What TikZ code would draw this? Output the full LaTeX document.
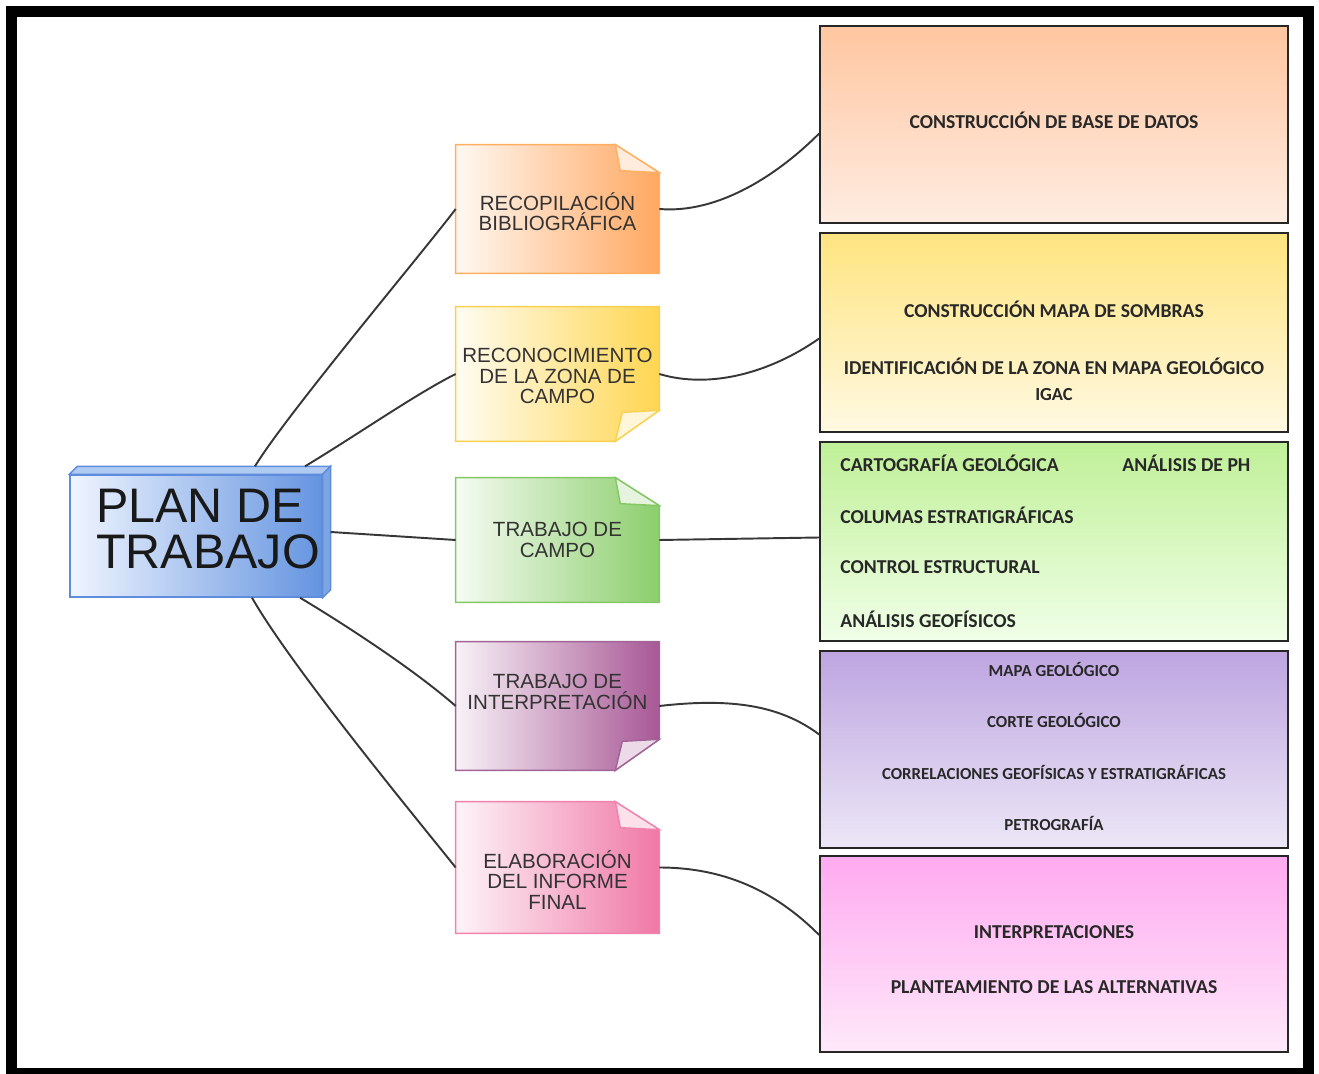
\documentclass[tikz,border=0pt]{standalone}
\usepackage{fontspec}
\setmainfont{Liberation Sans}
\newfontfamily\boxfont{Carlito}
\usetikzlibrary{calc,positioning,backgrounds}

\definecolor{linegray}{RGB}{55,55,55}
\definecolor{txtgray}{RGB}{40,40,40}
% plan box
\definecolor{planL}{RGB}{240,245,255}
\definecolor{planR}{RGB}{100,148,224}
\definecolor{planB}{RGB}{95,140,220}
\definecolor{planTop}{RGB}{175,203,242}
\definecolor{planSide}{RGB}{125,165,228}
% notes
\definecolor{recC}{RGB}{255,168,98}
\definecolor{recB}{RGB}{255,175,95}
\definecolor{zonC}{RGB}{255,214,82}
\definecolor{zonB}{RGB}{250,208,80}
\definecolor{camC}{RGB}{140,206,108}
\definecolor{camB}{RGB}{132,200,102}
\definecolor{intC}{RGB}{168,88,150}
\definecolor{intB}{RGB}{160,100,150}
\definecolor{infC}{RGB}{240,120,166}
\definecolor{infB}{RGB}{240,130,172}
% task boxes
\definecolor{dbT}{RGB}{255,198,160}
\definecolor{dbD}{RGB}{255,236,226}
\definecolor{somT}{RGB}{255,228,128}
\definecolor{somD}{RGB}{255,249,226}
\definecolor{geoT}{RGB}{192,240,152}
\definecolor{geoD}{RGB}{240,255,232}
\definecolor{labT}{RGB}{190,165,225}
\definecolor{labD}{RGB}{236,231,246}
\definecolor{finT}{RGB}{255,170,240}
\definecolor{finD}{RGB}{255,233,250}

\tikzset{
  conn/.style={draw=linegray, line width=1.1pt},
  planbox/.style={draw=planB, line width=0.8pt, left color=planL, right color=planR,
    minimum width=5.04cm, minimum height=2.44cm, inner sep=0pt},
  plantxt/.style={font=\fontsize{27.6}{26}\selectfont, text=black!90, align=left, inner sep=0pt},
  note/.style={minimum width=4.06cm, minimum height=#1, inner sep=0pt},
  notetxt/.style={font=\fontsize{11.7}{11.5}\selectfont, text=black!80, align=center, inner sep=0pt},
  task/.style={draw=black!85, line width=1pt, minimum width=9.36cm, minimum height=#1, inner sep=0pt},
  tasktxt/.style={font=\boxfont\bfseries\fontsize{11.2}{13}\selectfont, text=txtgray, inner sep=0pt},
  smalltxt/.style={tasktxt, font=\boxfont\bfseries\fontsize{9.6}{11}\selectfont},
}

% note with the corner folded at the top right
\newcommand\foldtop[3]{%
  \shade[left color=#2!8, right color=#2, draw=#3, line width=0.8pt]
    (#1.north west) -- ($(#1.north east)+(-44,0)$) -- ($(#1.north east)+(0,28)$)
    -- (#1.south east) -- (#1.south west) -- cycle;
  \filldraw[fill=#2!22, draw=#3, line width=0.8pt]
    ($(#1.north east)+(-44,0)$) -- ($(#1.north east)+(-39,26)$) -- ($(#1.north east)+(0,28)$) -- cycle;
}
% note with the corner curled at the bottom right
\newcommand\foldbot[3]{%
  \shade[left color=#2!8, right color=#2, draw=#3, line width=0.8pt]
    (#1.north west) -- (#1.north east) -- ($(#1.south east)+(0,-31)$)
    -- ($(#1.south east)+(-44,0)$) -- (#1.south west) -- cycle;
  \filldraw[fill=#2!22, draw=#3, line width=0.8pt]
    ($(#1.south east)+(0,-31)$) -- ($(#1.south east)+(-37,-29)$) -- ($(#1.south east)+(-44,0)$) -- cycle;
}

\begin{document}
\begin{tikzpicture}[x=0.02cm,y=-0.02cm]
  \useasboundingbox (0,0) rectangle (1319,1074);
  \draw[line width=0.22cm] (11.5,11.5) rectangle (1308.5,1073);

  % central box
  \node[planbox, label={[plantxt,xshift=0.24cm,yshift=0.14cm]center:PLAN DE\\TRABAJO}] (plan) at (196,536) {};
  \filldraw[fill=planTop, draw=planB, line width=0.8pt]
    (plan.north west) -- ++(8,-8) -- ($(plan.north east)+(8,-8)$) -- (plan.north east) -- cycle;
  \filldraw[fill=planSide, draw=planB, line width=0.8pt]
    (plan.north east) -- ++(8,-8) -- ($(plan.south east)+(8,-8)$) -- (plan.south east) -- cycle;

  % notes
  \node[note=2.56cm, label={[notetxt,yshift=-0.06cm]center:RECOPILACIÓN\\BIBLIOGRÁFICA}] (rec) at (557.5,209) {};
  \node[note=2.68cm, label={[notetxt,yshift=-0.04cm]center:RECONOCIMIENTO\\DE LA ZONA DE\\CAMPO}] (zon) at (557.5,374) {};
  \node[note=2.48cm, label={[notetxt]center:TRABAJO DE\\CAMPO}] (cam) at (557.5,540) {};
  \node[note=2.56cm, label={[notetxt,yshift=0.28cm]center:TRABAJO DE\\INTERPRETACIÓN}] (int) at (557.5,706) {};
  \node[note=2.62cm, label={[notetxt,yshift=-0.25cm]center:ELABORACIÓN\\DEL INFORME\\FINAL}] (inf) at (557.5,867.5) {};
  \begin{scope}[on background layer]
    \foldtop{rec}{recC}{recB}
    \foldbot{zon}{zonC}{zonB}
    \foldtop{cam}{camC}{camB}
    \foldbot{int}{intC}{intB}
    \foldtop{inf}{infC}{infB}
  \end{scope}

  % task boxes
  \node[task=3.94cm, top color=dbT, bottom color=dbD] (db) at (1054,124.5) {};
  \node[task=3.98cm, top color=somT, bottom color=somD] (som) at (1054,332.5) {};
  \node[task=3.98cm, top color=geoT, bottom color=geoD] (geo) at (1054,541.5) {};
  \node[task=3.94cm, top color=labT, bottom color=labD] (lab) at (1054,749.5) {};
  \node[task=3.92cm, top color=finT, bottom color=finD] (fin) at (1054,954) {};

  \node[tasktxt] (db1) at (1054,120) {CONSTRUCCIÓN DE BASE DE DATOS};
  \node[tasktxt] (som1) at (1054,309) {CONSTRUCCIÓN MAPA DE SOMBRAS};
  \node[tasktxt] (som2) at (1054,366) {IDENTIFICACIÓN DE LA ZONA EN MAPA GEOLÓGICO};
  \node[tasktxt, font=\boxfont\bfseries\fontsize{10.5}{12}\selectfont] (som3) at (1054,395) {IGAC};
  \node[tasktxt, anchor=west] (geo1) at (840,463) {CARTOGRAFÍA GEOLÓGICA};
  \node[tasktxt, anchor=west] (geo2) at (1122,463) {ANÁLISIS DE PH};
  \node[tasktxt, anchor=west] (geo3) at (840,515) {COLUMAS ESTRATIGRÁFICAS};
  \node[tasktxt, anchor=west] (geo4) at (840,567) {CONTROL ESTRUCTURAL};
  \node[tasktxt, anchor=west] (geo5) at (840,619) {ANÁLISIS GEOFÍSICOS};
  \node[smalltxt] (lab1) at (1054,669) {MAPA GEOLÓGICO};
  \node[smalltxt] (lab2) at (1054,720) {CORTE GEOLÓGICO};
  \node[smalltxt] (lab3) at (1054,772) {CORRELACIONES GEOFÍSICAS Y ESTRATIGRÁFICAS};
  \node[smalltxt] (lab4) at (1054,823) {PETROGRAFÍA};
  \node[tasktxt] (fin1) at (1054,932) {INTERPRETACIONES};
  \node[tasktxt] (fin2) at (1054,987) {PLANTEAMIENTO DE LAS ALTERNATIVAS};

  % connectors
  \draw[conn] ($(plan.north)+(59,-8)$) .. controls +(30,-50) and +(-30,40) .. (rec.west);
  \draw[conn] ($(plan.north)+(109,-8)$) .. controls +(50,-30) and +(-40,20) .. (zon.west);
  \draw[conn] ($(plan.east)+(8,-4)$) -- (cam.west);
  \draw[conn] ($(plan.south)+(104,0)$) .. controls +(50,30) and +(-40,-35) .. (int.west);
  \draw[conn] ($(plan.south)+(56,0)$) .. controls +(40,70) and +(-40,-50) .. (inf.west);

  \draw[conn] (rec.east) .. controls +(60,5) and +(-40,40) .. ($(db.west)+(0,9)$);
  \draw[conn] (zon.east) .. controls +(50,15) and +(-50,35) .. ($(som.west)+(0,6)$);
  \draw[conn] (cam.east) -- ($(geo.west)+(0,-4)$);
  \draw[conn] (int.east) .. controls +(70,-8) and +(-40,-30) .. ($(lab.west)+(0,-15)$);
  \draw[conn] (inf.east) .. controls +(70,0) and +(-40,-40) .. ($(fin.west)+(0,-19)$);
\end{tikzpicture}
\end{document}
